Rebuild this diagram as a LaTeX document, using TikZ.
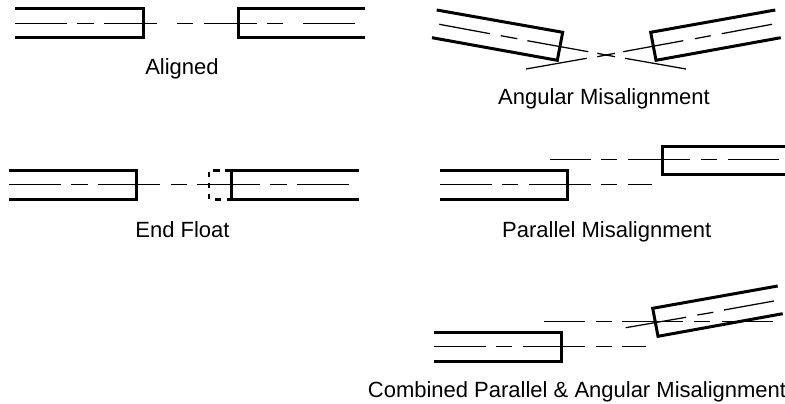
\documentclass[tikz,border=0pt]{standalone}
\usepackage{fontspec}
\setmainfont{Liberation Sans}
\tikzset{
  shaft/.style={line width=3pt,line cap=butt,line join=miter,black},
  axisline/.style={line width=1.25pt,black},
  caption/.style={anchor=base,inner sep=0pt,font=\fontsize{22}{26}\selectfont,text=black}
}
\begin{document}
\begin{tikzpicture}[x=1pt,y=-1pt]
\useasboundingbox (0,0) rectangle (785,404);
% Aligned
\draw[shaft] (15,9) -- (143,9) -- (143,37.7) -- (15,37.7);
\draw[shaft] (365,9) -- (238,9) -- (238,37.7) -- (365,37.7);
\draw[axisline] (15,23.3)--(67,23.3) (77,23.3)--(94,23.3) (104,23.3)--(157,23.3) (177,23.3)--(193,23.3) (204,23.3)--(257,23.3) (267,23.3)--(283,23.3) (303,23.3)--(355,23.3);
\node[caption] (aligned) at (182,75) {Aligned};
% Angular
\draw[shaft] (436.7,10) -- (562.7,32.3) -- (557.3,60.3) -- (432,37.7);
\draw[shaft] (775.3,10) -- (650.7,32.3) -- (656,60.3) -- (780.7,37.7);
\draw[axisline] (439.3,24.3)--(490,33.7) (500.7,35.7)--(517.3,38.7) (527.3,40.7)--(588.3,51.7) (597.3,53.3)--(615,56.7) (625,58.3)--(686,69);
\draw[axisline] (772,24.3)--(721.7,33.7) (710.7,35.7)--(695,38.7) (683.3,40.7)--(623.3,51.7) (615,53.3)--(597.3,56.7) (586.7,58.3)--(526,69);
\node[caption] (angular) at (604,105) {Angular Misalignment};
% End float
\draw[shaft] (9,170.7) -- (136.7,170.7) -- (136.7,199.3) -- (9,199.3);
\draw[shaft] (358.5,170.7) -- (231,170.7) -- (231,199.3) -- (358.5,199.3);
\draw[axisline] (9,184.7)--(61,184.7) (71,184.7)--(88,184.7) (98,184.7)--(160,184.7) (171,184.7)--(187,184.7) (197,184.7)--(260,184.7) (270,184.7)--(287,184.7) (297,184.7)--(349,184.7);
\draw[line width=2.6pt,black] (209,171.7)--(209,176.7) (209,182.5)--(209,187.5) (209,193.5)--(209,199.3) (213,170.7)--(220,170.7) (225,170.7)--(231,170.7) (215,199.3)--(221,199.3) (227,199.3)--(231,199.3);
\node[caption] (endfloat) at (182.5,237) {End Float};
% Parallel
\draw[shaft] (440,170) -- (567.3,170) -- (567.3,199) -- (440,199);
\draw[shaft] (785,146) -- (662,146) -- (662,174.7) -- (785,174.7);
\draw[axisline] (440,184.7)--(491.7,184.7) (502.3,184.7)--(518.3,184.7) (529,184.7)--(590.7,184.7) (601.3,184.7)--(617.3,184.7) (628.3,184.7)--(651.7,184.7);
\draw[axisline] (550,159.7)--(590.7,159.7) (601.3,159.7)--(617.3,159.7) (628.3,159.7)--(690,159.7) (700.7,159.7)--(716.7,159.7) (727.7,159.7)--(779,159.7);
\node[caption] (parallel) at (606.7,237) {Parallel Misalignment};
% Combined
\draw[shaft] (434,332.3) -- (561.3,332.3) -- (561.3,361) -- (434,361);
\draw[shaft] (777.7,286) -- (652.7,308.3) -- (658,336.3) -- (782.7,313.7);
\draw[axisline] (434,346.3)--(485.7,346.3) (496,346.3)--(512.3,346.3) (523.3,346.3)--(585,346.3) (595.7,346.3)--(611.7,346.3) (622.3,346.3)--(645.7,346.3);
\draw[axisline] (544.3,321.3)--(585,321.3) (595.7,321.3)--(611.7,321.3) (622.3,321.3)--(683.3,321.3) (694,321.3)--(710,321.3) (721.7,321.3)--(773.3,321.3);
\draw[axisline] (774,301)--(724,310) (713.3,312.3)--(697.3,315) (686,317.3)--(625.7,327.7);
\node[caption] (combined) at (577,397) {Combined Parallel \& Angular Misalignment};
\end{tikzpicture}
\end{document}
